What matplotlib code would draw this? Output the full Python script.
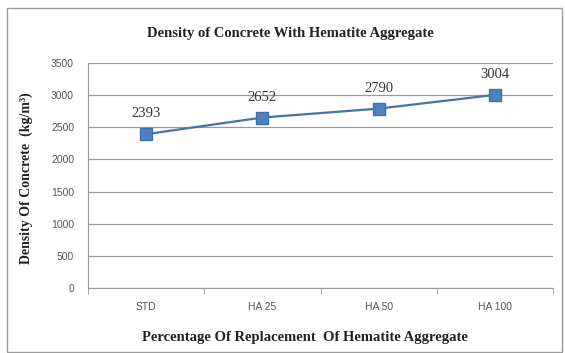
import matplotlib
matplotlib.use("Agg")
import matplotlib.pyplot as plt
from matplotlib.patches import Rectangle

categories = ["STD", "HA 25", "HA 50", "HA 100"]
density = [2393, 2652, 2790, 3004]
y_ticks = [0, 500, 1000, 1500, 2000, 2500, 3000, 3500]

W, H = 565, 353
fig = plt.figure(figsize=(W / 100, H / 100), dpi=100)
fig.patch.set_facecolor("white")

# outer chart frame
fig.patches.append(Rectangle((7 / W, 1 / H), 555 / W, (H - 9) / H, transform=fig.transFigure,
                             fill=False, edgecolor="#9a9a9a", linewidth=1.0))

ax = fig.add_axes([88 / W, 1 - 288 / H, (553 - 88) / W, (288 - 63) / H])
x = range(len(categories))
line_color = "#4472ad"
ax.plot(x, density, color=line_color, linewidth=1.6, marker="s", markersize=8,
        markerfacecolor="#4f81bd", markeredgecolor="#3f6fa8", zorder=3)

for xi, v in zip(x, density):
    ax.annotate(str(v), (xi, v), xytext=(0, 10), textcoords="offset points",
                ha="center", va="bottom", fontsize=10.5, family="Liberation Serif",
                color="#333333")

ax.set_xlim(-0.5, len(categories) - 0.5)
ax.set_ylim(0, 3500)
ax.set_yticks(y_ticks)
ax.set_xticks(list(x))
ax.set_xticklabels(categories)
ax.set_xticks([i + 0.5 for i in range(-1, len(categories))], minor=True)
ax.grid(axis="y", color="#9a9a9a", linewidth=0.9)
ax.set_axisbelow(True)
for side in ["top", "right"]:
    ax.spines[side].set_visible(False)
ax.spines["left"].set_color("#9a9a9a")
ax.spines["bottom"].set_color("#9a9a9a")
ax.tick_params(axis="both", which="both", length=0, labelsize=7.5, labelcolor="#555555")
ax.tick_params(axis="x", which="minor", length=4, color="#9a9a9a", direction="out")
ax.tick_params(axis="y", pad=10)
ax.tick_params(axis="x", which="major", pad=10)
for lab in ax.get_xticklabels() + ax.get_yticklabels():
    lab.set_family("Liberation Sans")

fig.text(290 / W, 1 - 33 / H, "Density of Concrete With Hematite Aggregate",
         ha="center", va="center", fontsize=10.5, fontweight="bold",
         family="Liberation Serif", color="#222222")
fig.text(305 / W, 1 - 338 / H, "Percentage Of Replacement  Of Hematite Aggregate",
         ha="center", va="center", fontsize=10.5, fontweight="bold",
         family="Liberation Serif", color="#222222")
fig.text(26 / W, 1 - 178 / H, "Density Of Concrete  (kg/m³)",
         ha="center", va="center", rotation=90, fontsize=10, fontweight="bold",
         family="Liberation Serif", color="#222222")

fig.savefig("out.png", dpi=100)
